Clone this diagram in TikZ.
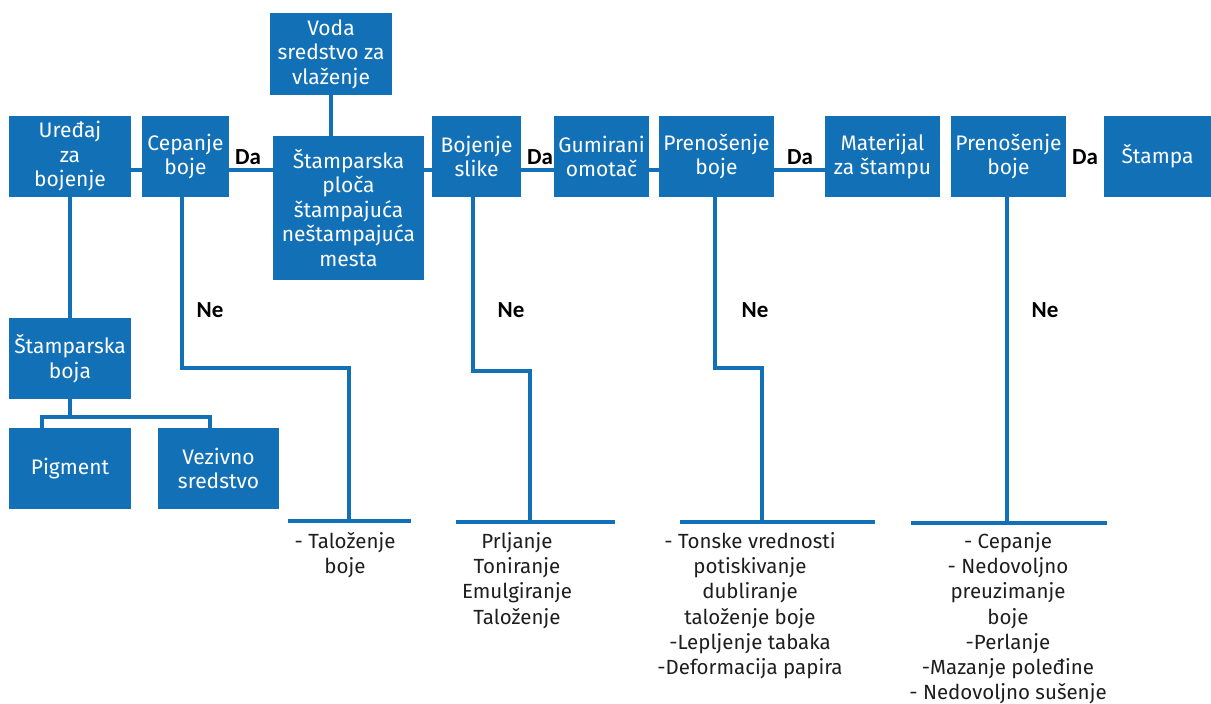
\documentclass[tikz,border=0pt]{standalone}
\usepackage{fontspec}
\setmainfont{Fira Sans}
\newfontfamily\dafont{Carlito}
\definecolor{myblue}{RGB}{18,112,183}
\definecolor{txt}{RGB}{30,30,30}
\begin{document}
\begin{tikzpicture}[x=1pt,y=-1pt,
  box/.style={fill=myblue, text=white, inner sep=0pt, align=center,
    font=\fontsize{21}{24.5}\selectfont},
  conn/.style={draw=myblue, line width=4.5pt},
  yn/.style={font=\dafont\bfseries\fontsize{23}{24}\selectfont, inner sep=0pt, text=black},
  res/.style={font=\fontsize{20.5}{25.3}\selectfont, align=center, anchor=north,
    inner sep=0pt, text=txt}]
\useasboundingbox[fill=white] (0,0) rectangle (1211,704);

% boxes
\node[box, minimum width=122pt, minimum height=81pt] (ured) at (70,156.5) {Uređaj\\za\\bojenje};
\node[box, minimum width=87pt, minimum height=81pt] (cep) at (185.5,156.5) {Cepanje\\boje};
\node[box, minimum width=122pt, minimum height=82pt] (voda) at (331,54) {Voda\\sredstvo za\\vlaženje};
\node[box, minimum width=151pt, minimum height=144pt] (plo) at (348.5,208) {Štamparska\\ploča\\štampajuća\\neštampajuća\\mesta};
\node[box, minimum width=89pt, minimum height=81pt] (boj) at (476.5,156.5) {Bojenje\\slike};
\node[box, minimum width=95pt, minimum height=81pt] (gum) at (601.5,156.5) {Gumirani\\omotač};
\node[box, minimum width=115pt, minimum height=81pt] (pren1) at (716.5,156.5) {Prenošenje\\boje};
\node[box, minimum width=115pt, minimum height=81pt] (mat) at (882.5,156.5) {Materijal\\za štampu};
\node[box, minimum width=115pt, minimum height=81pt] (pren2) at (1008.5,156.5) {Prenošenje\\boje};
\node[box, minimum width=107pt, minimum height=81pt] (stampa) at (1157.5,156.5) {Štampa};
\node[box, minimum width=122pt, minimum height=81pt] (sboja) at (70,358.5) {Štamparska\\boja};
\node[box, minimum width=122pt, minimum height=81pt] (pig) at (70,468.5) {Pigment};
\node[box, minimum width=121pt, minimum height=81pt] (vez) at (218.5,468.5) {Vezivno\\sredstvo};

% main horizontal connectors
\coordinate (h) at (0,170);
\draw[conn] (ured.east |- h) -- (cep.west |- h);
\draw[conn] (cep.east |- h) -- (plo.west |- h);
\draw[conn] (plo.east |- h) -- (boj.west |- h);
\draw[conn] (boj.east |- h) -- (gum.west |- h);
\draw[conn] (gum.east |- h) -- (pren1.west |- h);
\draw[conn] (pren1.east |- h) -- (mat.west |- h);
\draw[conn] (voda.south) -- (voda.south |- plo.north);

% Da labels
\node[yn] (da1) at (248,157) {Da};
\node[yn] (da2) at (540,157) {Da};
\node[yn] (da3) at (800,157) {Da};
\node[yn] (da4) at (1085,157) {Da};

% left tree
\draw[conn] (ured.south) -- (sboja.north);
\coordinate (s1) at (70,417);
\coordinate (s2) at (42,417);
\coordinate (s3) at (210,417);
\draw[conn] (sboja.south) -- (s1);
\draw[conn] (pig.north -| s2) -- (s2) -- (s3) -- (vez.north -| s3);

% Ne branches
\coordinate (c1) at (182,368);
\coordinate (c2) at (349,368);
\coordinate (c3) at (349,521);
\coordinate (b1l) at (288,521);
\coordinate (b1r) at (411,521);
\draw[conn] (cep.south -| c1) -- (c1) -- (c2) -- (c3);
\draw[conn] (b1l) -- (b1r);

\coordinate (d1) at (473,371);
\coordinate (d2) at (530,371);
\coordinate (d3) at (530,522);
\coordinate (b2l) at (456,522);
\coordinate (b2r) at (615,522);
\draw[conn] (boj.south -| d1) -- (d1) -- (d2) -- (d3);
\draw[conn] (b2l) -- (b2r);

\coordinate (e1) at (715,368);
\coordinate (e2) at (762,368);
\coordinate (e3) at (762,522);
\coordinate (b3l) at (680,522);
\coordinate (b3r) at (875,522);
\draw[conn] (pren1.south -| e1) -- (e1) -- (e2) -- (e3);
\draw[conn] (b3l) -- (b3r);

\coordinate (f1) at (1007,523);
\coordinate (b4l) at (911,523);
\coordinate (b4r) at (1107,523);
\draw[conn] (pren2.south -| f1) -- (f1);
\draw[conn] (b4l) -- (b4r);

\node[yn] (ne1) at (210,310) {Ne};
\node[yn] (ne2) at (511,310) {Ne};
\node[yn] (ne3) at (755,310) {Ne};
\node[yn] (ne4) at (1045,310) {Ne};

% results
\node[res] (r1) at (345,532) {- Taloženje\\boje};
\node[res] (r2) at (517,532) {Prljanje\\Toniranje\\Emulgiranje\\Taloženje};
\node[res] (r3) at (750,532) {- Tonske vrednosti\\potiskivanje\\dubliranje\\taloženje boje\\-Lepljenje tabaka\\-Deformacija papira};
\node[res] (r4) at (1008,532) {- Cepanje\\- Nedovoljno\\preuzimanje\\boje\\-Perlanje\\-Mazanje poleđine\\- Nedovoljno sušenje};
\end{tikzpicture}
\end{document}
